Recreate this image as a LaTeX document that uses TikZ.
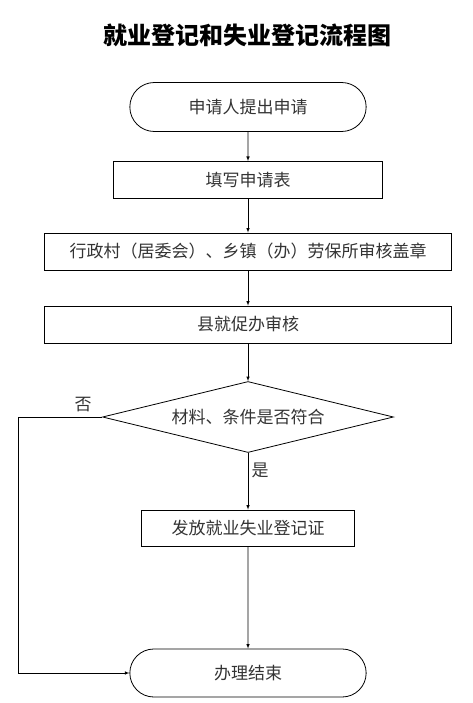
\documentclass[tikz,border=0pt]{standalone}
\usepackage{fontspec}
\setmainfont{Noto Sans CJK SC}
\usetikzlibrary{positioning, calc, arrows, shapes}
\tikzset{every node/.style={text=black!80, font=\fontsize{17}{17}\selectfont}}
\tikzset{terminal/.style={draw=black, thick, rounded rectangle, minimum width=243pt, minimum height=49pt}}
\tikzset{process/.style={draw=black, thick, rectangle, minimum height=37pt}}
\tikzset{decision/.style={draw=black, thick, diamond, aspect=4, inner sep=0pt, minimum width=291pt, minimum height=71pt}}
\tikzstyle{flow}=[->, >=latex, semithick]

\begin{document}
\begin{tikzpicture}[x=1pt, y=-1pt]
      \useasboundingbox (0,0) rectangle (472,703);
      \node[font=\fontsize{24}{24}\selectfont\bfseries, text=black] (title) at (247,35) {就业登记和失业登记流程图};

      \node[terminal] (apply) at (248,107) {申请人提出申请};
      \node[process, minimum width=269pt] (form) at (248,180) {填写申请表};
      \node[process, minimum width=407pt] (village) at (248,251.5) {行政村（居委会）、乡镇（办）劳保所审核盖章};
      \node[process, minimum width=407pt] (county) at (248,324.5) {县就促办审核};
      \node[decision] (check) at (248,417) {材料、条件是否符合};
      \node[process, minimum width=213pt, minimum height=36pt] (issue) at (248,528) {发放就业失业登记证};
      \node[terminal, minimum height=48pt] (done) at (248,673) {办理结束};

      \draw[flow] (apply) -- (form);
      \draw[flow] (form) -- (village);
      \draw[flow] (village) -- (county);
      \draw[flow] (county) -- (check);
      \draw[flow] (check) -- node[right, pos=.3] (yes) {是} (issue);
      \draw[flow] (issue) -- (done);

      \coordinate (corner) at (18,417);
      \draw[flow] (check.west) -- (corner) |- (done.west);
      \node (no) at (83,405) {否};
    \end{tikzpicture}
\end{document}
